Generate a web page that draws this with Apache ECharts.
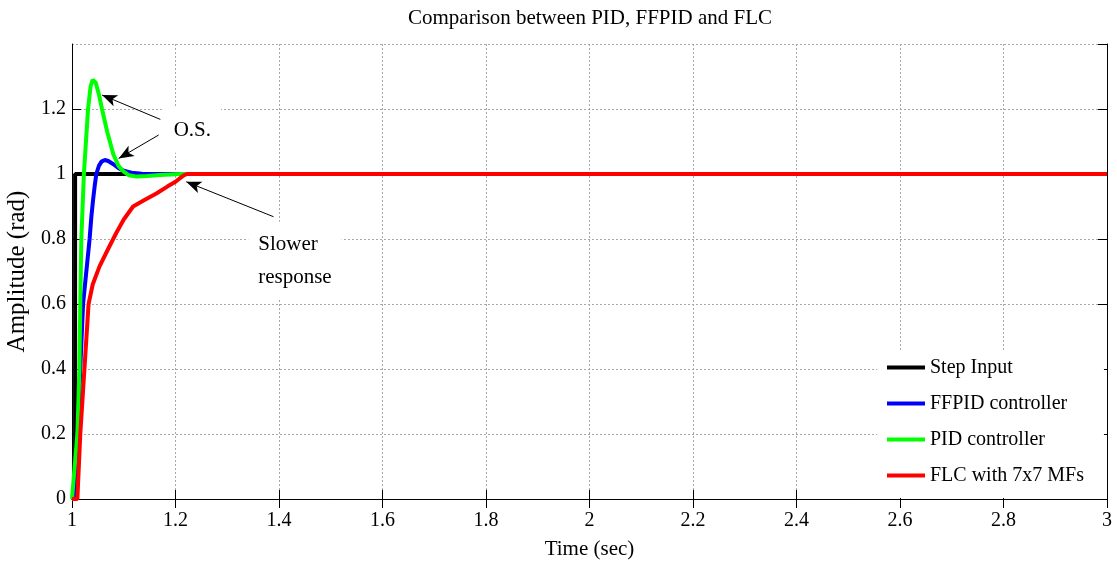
<!DOCTYPE html>
<html>
<head>
<meta charset="utf-8">
<script src="https://cdn.jsdelivr.net/npm/echarts@6/dist/echarts.min.js"></script>
<style>
  html, body { margin: 0; padding: 0; background: #fff; }
  #chart { width: 1117px; height: 567px; }
</style>
</head>
<body>
<div id="chart"></div>
<script>
// time (sec), amplitude (rad)
let stepInput = [[1, 0], [1.006, 0], [1.006, 1], [3, 1]];
let ffpid = [
  [1, 0], [1.004, 0], [1.011, 0.2], [1.016, 0.4], [1.0214, 0.6], [1.034, 0.8],
  [1.0375, 0.87], [1.0407, 0.92], [1.044, 0.965], [1.047, 1.0], [1.052, 1.025],
  [1.057, 1.038], [1.0635, 1.043], [1.07, 1.04], [1.08, 1.03], [1.09, 1.018],
  [1.1, 1.01], [1.115, 1.004], [1.135, 1.001], [1.16, 1], [3, 1],
];
let pid = [
  [1, 0], [1.003, 0], [1.0104, 0.2], [1.0143, 0.4], [1.016, 0.6], [1.018, 0.8],
  [1.023, 1.0], [1.031, 1.2], [1.036, 1.27], [1.04, 1.29], [1.046, 1.28],
  [1.052, 1.245], [1.058, 1.2], [1.068, 1.13], [1.08, 1.06], [1.09, 1.025],
  [1.1, 1.007], [1.11, 0.996], [1.125, 0.992], [1.145, 0.994], [1.17, 0.997],
  [1.21, 1], [3, 1],
];
let flc = [
  [1, 0], [1.0104, 0], [1.016, 0.2], [1.024, 0.4], [1.032, 0.6], [1.04, 0.66],
  [1.053, 0.715], [1.07, 0.77], [1.086, 0.82], [1.1, 0.86], [1.118, 0.9],
  [1.14, 0.92], [1.163, 0.94], [1.185, 0.962], [1.2, 0.976], [1.215, 0.995],
  [1.222, 1], [3, 1],
];
let seriesNames = ["Step Input", "FFPID controller", "PID controller", "FLC with 7x7 MFs"];
let seriesColors = ["#000000", "#0000ff", "#00ff00", "#ff0000"];

// annotation arrows: [from, to] in data coords
let osArrows = [
  [[1.1707, 1.168], [1.0581, 1.243]],
  [[1.1674, 1.12], [1.0902, 1.048]],
];
let slowArrow = [[1.3894, 0.8686], [1.2208, 0.976]];

let xMin = 1, xMax = 3, xStep = 0.2;
let yMin = 0, yMax = 1.4, yStep = 0.2;

let font = "Liberation Serif";
let chart = echarts.init(document.getElementById("chart"));

let lineSeries = [stepInput, ffpid, pid, flc].map(function (d, i) {
  return {
    name: seriesNames[i],
    type: "line",
    data: d,
    symbol: "none",
    color: seriesColors[i],
    lineStyle: { width: 4, color: seriesColors[i] },
    z: 3 + i,
  };
});

let frameAxis = {
  min: xMin, max: xMax, interval: xStep,
  axisLine: { show: true, lineStyle: { color: "#000", width: 1 } },
  axisTick: { show: true, inside: true, length: 9, lineStyle: { color: "#000" } },
};
let gridLine = { show: true, lineStyle: { color: "#a8a8a8", type: [2, 2], width: 1 } };

chart.setOption({
  animation: false,
  backgroundColor: "#fff",
  title: {
    text: "Comparison between PID, FFPID and FLC",
    left: 585,
    textAlign: "center",
    top: 3,
    textStyle: { fontFamily: font, fontSize: 21, fontWeight: "normal", color: "#000" },
  },
  grid: { left: 72, right: 10, top: 44, bottom: 68, outerBoundsMode: "none", containLabel: false },
  legend: {
    data: seriesNames,
    orient: "vertical",
    left: 877,
    top: 352,
    padding: [5, 20, 12, 10],
    backgroundColor: "#fff",
    itemWidth: 38,
    itemHeight: 4,
    itemGap: 15,
    icon: "rect",
    textStyle: { fontFamily: font, fontSize: 20, color: "#000", lineHeight: 21 },
    z: 1,
  },
  xAxis: [
    Object.assign({}, frameAxis, {
      type: "value",
      position: "bottom",
      name: "Time (sec)",
      nameLocation: "middle",
      nameGap: 40,
      nameTextStyle: { fontFamily: font, fontSize: 21, color: "#000" },
      axisLabel: { fontFamily: font, fontSize: 20, color: "#000", margin: 12 },
      splitLine: gridLine,
    }),
    Object.assign({}, frameAxis, {
      type: "value",
      position: "top",
      axisLabel: { show: false },
      splitLine: { show: false },
    }),
  ],
  yAxis: [
    Object.assign({}, frameAxis, {
      type: "value",
      min: yMin, max: yMax, interval: yStep,
      position: "left",
      name: "Amplitude (rad)",
      nameLocation: "middle",
      nameGap: 39,
      nameTextStyle: { fontFamily: font, fontSize: 25, color: "#000" },
      axisLabel: { fontFamily: font, fontSize: 20, color: "#000", margin: 6, showMaxLabel: false },
      splitLine: gridLine,
    }),
    Object.assign({}, frameAxis, {
      type: "value",
      min: yMin, max: yMax, interval: yStep,
      position: "right",
      axisLabel: { show: false },
      splitLine: { show: false },
    }),
  ],
  series: lineSeries.concat([
    {
      name: "notes",
      type: "line",
      data: [],
      symbol: "none",
      z: 10,
      markLine: {
        silent: true,
        animation: false,
        symbol: ["none", "arrow"],
        symbolSize: [9, 15],
        lineStyle: { color: "#000", width: 1, type: "solid" },
        label: { show: false },
        emphasis: { disabled: true },
        data: osArrows.concat([slowArrow]).map(function (a) {
          return [{ coord: a[0] }, { coord: a[1] }];
        }),
      },
      markPoint: {
        silent: true,
        animation: false,
        symbolSize: 0,
        data: [
          {
            coord: [1.2325, 1.135],
            label: {
              show: true, position: "inside", formatter: "O.S.",
              fontFamily: font, fontSize: 21, color: "#000",
              backgroundColor: "#fff", padding: [12, 10, 12, 10],
            },
          },
          {
            coord: [1.3405, 0.733],
            label: {
              show: true, position: "right", distance: 0,
              formatter: "Slower\nresponse", lineHeight: 33,
              fontFamily: font, fontSize: 21, color: "#000",
              backgroundColor: "#fff", padding: [6, 10, 6, 10],
            },
          },
        ],
      },
    },
  ]),
});
</script>
</body>
</html>
